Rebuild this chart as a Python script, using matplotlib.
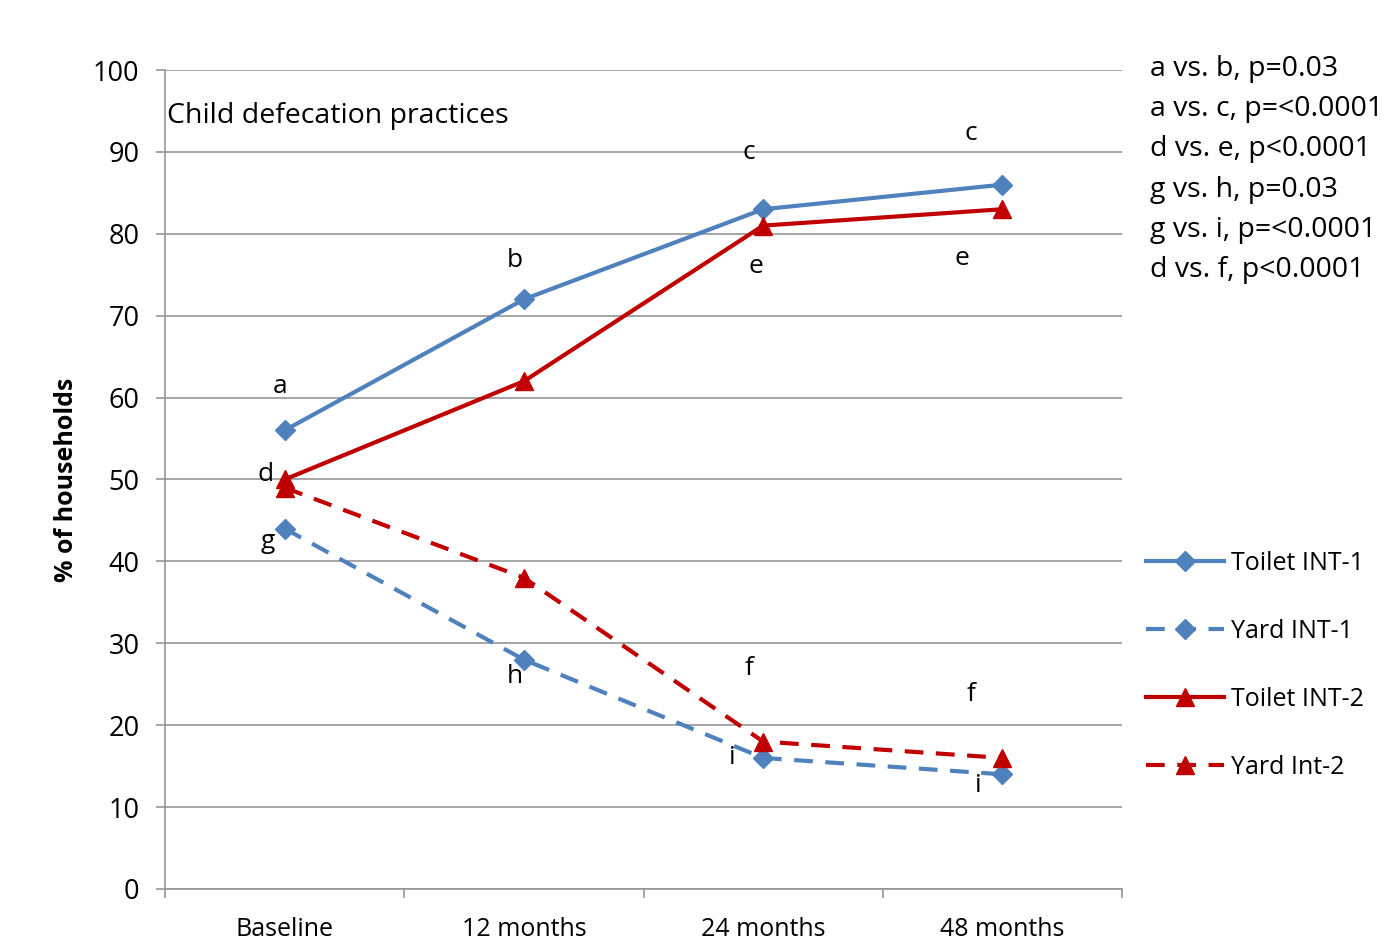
import matplotlib.pyplot as plt
import numpy as np

plt.rcParams['font.family'] = ['Open Sans', 'DejaVu Sans']

# Data
periods = ['Baseline', '12 months', '24 months', '48 months']
toilet_int1 = [56, 72, 83, 86]
yard_int1 = [44, 28, 16, 14]
toilet_int2 = [50, 62, 81, 83]
yard_int2 = [49, 38, 18, 16]

# letter annotations: (label, x index, y value)
letters = [('a', -0.02, 61.3), ('b', 0.96, 76.7), ('c', 1.94, 89.9), ('c', 2.87, 92.3),
           ('d', -0.08, 50.6), ('e', 1.97, 76.0), ('e', 2.83, 77.0),
           ('g', -0.07, 42.4), ('h', 0.96, 26.0), ('f', 1.94, 26.9),
           ('f', 2.87, 23.8), ('i', 1.87, 16.1), ('i', 2.9, 12.6)]

stats_lines = ['a vs. b, p=0.03', 'a vs. c, p=<0.0001', 'd vs. e, p<0.0001',
               'g vs. h, p=0.03', 'g vs. i, p=<0.0001', 'd vs. f, p<0.0001']

blue = '#4F81BD'
red = '#C00000'
gray = '#969696'

fig = plt.figure(figsize=(13.95, 9.41), dpi=100)
ax = fig.add_axes([0.1183, 0.0553, 0.686, 0.8703])

x = np.arange(len(periods))
ax.plot(x, toilet_int1, color=blue, lw=3, marker='D', ms=10, label='Toilet INT-1', zorder=4)
ax.plot(x, yard_int1, color=blue, lw=3, marker='D', ms=10, dashes=(4.5, 3), label='Yard INT-1', zorder=3)
ax.plot(x, toilet_int2, color=red, lw=3, marker='^', ms=13, label='Toilet INT-2', zorder=4)
ax.plot(x, yard_int2, color=red, lw=3, marker='^', ms=13, dashes=(4.5, 3), label='Yard Int-2', zorder=3)

for lab, xi, yi in letters:
    ax.text(xi, yi, lab, ha='center', va='center', fontsize=19, color='black')

ax.text(-0.49, 94.4, 'Child defecation practices', ha='left', va='center', fontsize=20.5)

ax.set_xlim(-0.5, 3.5)
ax.set_ylim(0, 100)
ax.set_yticks(range(0, 101, 10))
ax.set_xticks(x)
ax.set_xticklabels(periods)
ax.set_xticks(np.arange(-0.5, 4.0, 1), minor=True)
ax.tick_params(axis='x', which='major', length=0, labelsize=18, pad=20)
ax.tick_params(axis='x', which='minor', length=6.5, color=gray, width=1.2)
ax.tick_params(axis='y', length=6.5, color=gray, width=1.2, labelsize=19.5, pad=12)
ax.yaxis.grid(True, color=gray, lw=1.2)
ax.set_axisbelow(True)
for s in ['top', 'right']:
    ax.spines[s].set_visible(False)
for s in ['left', 'bottom']:
    ax.spines[s].set_color(gray)
    ax.spines[s].set_linewidth(1.2)

ax.set_ylabel('% of households', fontsize=18, fontweight='bold', labelpad=10)

for i, t in enumerate(stats_lines):
    fig.text(1150 / 1395, 1 - (69 + 40.2 * i) / 941, t, ha='left', va='center', fontsize=20.5)

ax.legend(loc='upper left', bbox_to_anchor=(1.015, 0.425), frameon=False, fontsize=18,
          handlelength=3.1, handletextpad=0.3, labelspacing=1.72, borderaxespad=0)

fig.savefig('out.png', dpi=100)
